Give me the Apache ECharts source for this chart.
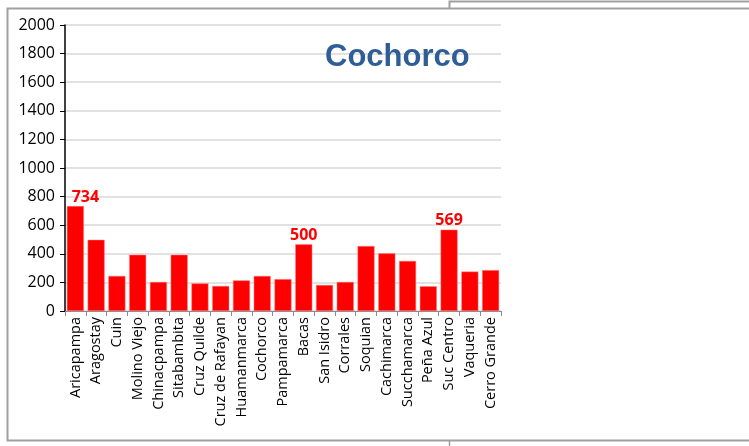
<!DOCTYPE html>
<html><head><meta charset="utf-8">
<script src="https://cdn.jsdelivr.net/npm/echarts@6/dist/echarts.min.js"></script>
<style>html,body{margin:0;padding:0;background:#fff}#c{width:749px;height:446px}</style>
</head><body><div id="c"></div>
<script>
const categories = ["Aricapampa","Aragostay","Cuin","Molino Viejo","Chinacpampa","Sitabambita","Cruz Quilde","Cruz de Rafayan","Huamanmarca","Cochorco","Pampamarca","Bacas","San Isidro","Corrales","Soquian","Cachimarca","Succhamarca","Peña Azul","Suc Centro","Vaqueria","Cerro Grande"];
const values = [734,498,245,393,203,393,193,175,214,245,223,466,182,203,454,403,350,173,569,276,286];
const labelTexts = {0:"734", 11:"500", 18:"569"};
const yTicks = [0,200,400,600,800,1000,1200,1400,1600,1800,2000];
const titleText = "Cochorco";

const chart = echarts.init(document.getElementById('c'), null, {renderer:'canvas'});
const seriesData = values.map(function(v,i){
  const d = {value:v};
  if (i===0) d.label = {offset:[10,0]};
  return d;
});
chart.setOption({
  animation:false,
  grid:{left:65, right:248, top:25, bottom:135, containLabel:false},
  title:{text:titleText, left:320, top:37, textStyle:{fontFamily:'Liberation Sans, Arial', fontWeight:'bold', fontSize:31, color:'#2E5E95'}},
  xAxis:{type:'category', data:categories,
    axisLine:{lineStyle:{color:'#8c8c8c', width:1}},
    axisTick:{show:true, alignWithLabel:false, length:5, lineStyle:{color:'#8c8c8c'}},
    axisLabel:{rotate:90, interval:0, fontFamily:'Open Sans', fontSize:14.5, color:'#000', margin:6}
  },
  yAxis:{type:'value', min:yTicks[0], max:yTicks[yTicks.length-1], interval:200,
    axisLine:{show:true, lineStyle:{color:'#000', width:1.5}},
    axisTick:{show:true, length:5, lineStyle:{color:'#000'}},
    axisLabel:{fontFamily:'Open Sans', fontSize:16, color:'#000', margin:10, formatter:function(v){return String(v);}},
    splitLine:{lineStyle:{color:'#d9d9d9', width:1.5}}
  },
  series:[{type:'bar', data:seriesData, barCategoryGap:'18%',
    itemStyle:{color:'#FF0000', borderColor:'#ff8080', borderWidth:0.5},
    label:{show:true, position:'top', distance:1, fontFamily:'Open Sans', fontWeight:'bold', fontSize:16, color:'#FF0000',
      formatter:function(p){return labelTexts[p.dataIndex]||'';}}
  }],
  graphic:[
    {type:'polyline', shape:{points:[[760,8.5],[7.5,8.5],[7.5,440.5],[760,440.5]]}, style:{stroke:'#a0a0a0', lineWidth:2, fill:null}},
    {type:'polyline', shape:{points:[[449.5,8],[449.5,1.5],[760,1.5]]}, style:{stroke:'#a0a0a0', lineWidth:2, fill:null}},
    {type:'line', shape:{x1:449.5,y1:441,x2:449.5,y2:446}, style:{stroke:'#a0a0a0', lineWidth:1.5}}
  ]
});
</script></body></html>
